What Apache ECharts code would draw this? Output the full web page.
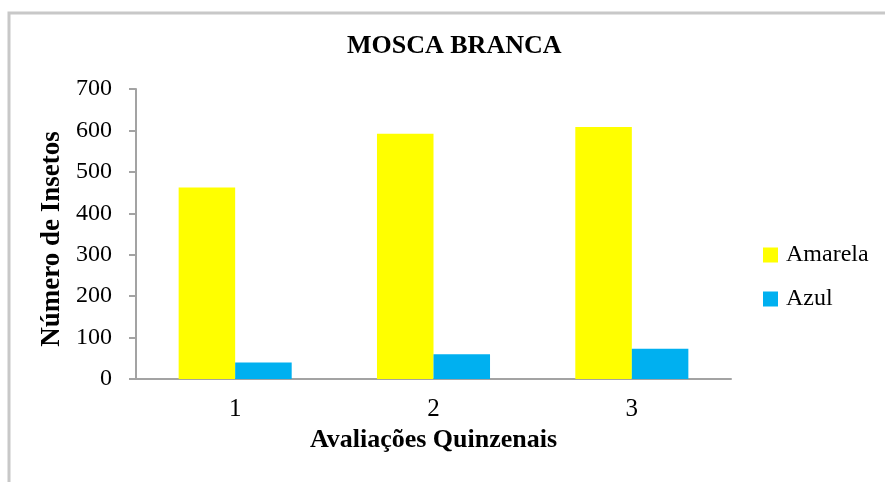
<!DOCTYPE html>
<html lang="pt">
<head>
    <meta charset="UTF-8">
    <title>Mosca Branca</title>
    <script src="https://cdn.jsdelivr.net/npm/echarts@6/dist/echarts.min.js"></script>
    <style>
        html, body {
            margin: 0;
            padding: 0;
            background: #fff;
        }

        #main {
            width: 885px;
            height: 482px;
        }
    </style>
</head>
<body>
<div id="main"></div>
<script>
    var categories = ['1', '2', '3'];
    var amarela = [462, 592, 608];
    var azul = [40, 60, 73];
    var yTicks = [0, 100, 200, 300, 400, 500, 600, 700];

    var serif = "'Liberation Serif', 'Times New Roman', serif";
    var axisColor = '#a3a3a3';

    var myChart = echarts.init(document.getElementById('main'));
    var option = {
        backgroundColor: '#fff',
        animation: false,
        graphic: [{
            type: 'rect',
            shape: {x: 9, y: 13, width: 920, height: 520},
            style: {fill: 'none', stroke: '#c8c8c8', lineWidth: 3}
        }],
        title: {
            text: 'MOSCA BRANCA',
            left: 347,
            top: 33,
            padding: 0,
            textStyle: {
                fontFamily: serif,
                fontWeight: 'bold',
                fontSize: 26,
                color: '#000'
            }
        },
        legend: {
            orient: 'vertical',
            left: 758,
            top: 238,
            itemWidth: 15,
            itemHeight: 15,
            itemGap: 20,
            icon: 'rect',
            textStyle: {
                fontFamily: serif,
                fontSize: 24,
                color: '#000',
                padding: [0, 0, 0, 3]
            },
            data: ['Amarela', 'Azul']
        },
        grid: {
            left: 136,
            right: 154,
            top: 89,
            bottom: 103
        },
        xAxis: {
            type: 'category',
            data: categories,
            name: 'Avaliações Quinzenais',
            nameLocation: 'middle',
            nameGap: 37,
            nameTextStyle: {
                fontFamily: serif,
                fontWeight: 'bold',
                fontSize: 26,
                color: '#000'
            },
            axisLine: {lineStyle: {color: axisColor, width: 2}},
            axisTick: {show: false},
            axisLabel: {
                fontFamily: serif,
                fontSize: 25,
                color: '#000',
                margin: 18
            }
        },
        yAxis: {
            type: 'value',
            min: yTicks[0],
            max: yTicks[yTicks.length - 1],
            interval: 100,
            name: 'Número de Insetos',
            nameLocation: 'middle',
            nameGap: 65,
            nameTextStyle: {
                fontFamily: serif,
                fontWeight: 'bold',
                fontSize: 27,
                color: '#000',
                padding: [0, 10, 0, 0]
            },
            axisLine: {show: true, lineStyle: {color: axisColor, width: 2}},
            axisTick: {show: true, length: 7, lineStyle: {color: axisColor, width: 2}},
            splitLine: {show: false},
            axisLabel: {
                fontFamily: serif,
                fontSize: 24,
                color: '#000',
                margin: 24
            }
        },
        series: [
            {
                name: 'Amarela',
                type: 'bar',
                data: amarela,
                barGap: '0%',
                barCategoryGap: '43%',
                itemStyle: {color: '#ffff00'}
            },
            {
                name: 'Azul',
                type: 'bar',
                data: azul,
                barGap: '0%',
                barCategoryGap: '43%',
                itemStyle: {color: '#00b0f0'}
            }
        ]
    };
    myChart.setOption(option);
</script>
</body>
</html>
